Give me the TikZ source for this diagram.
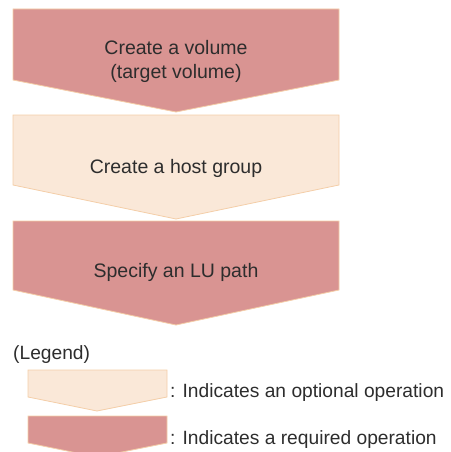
\documentclass[tikz,border=0pt]{standalone}
\usepackage{fontspec}
\setmainfont{Liberation Sans}
\definecolor{reqfill}{RGB}{217,148,146}
\definecolor{optfill}{RGB}{250,232,216}
\definecolor{edgecol}{RGB}{244,206,168}
\definecolor{txt}{RGB}{45,45,45}
\tikzset{
  reqshape/.style={fill=reqfill,draw=edgecol,line width=0.8pt,line join=miter},
  optshape/.style={fill=optfill,draw=edgecol,line width=0.8pt,line join=miter},
  lbl/.style={inner sep=0pt,anchor=base,text=txt,font=\fontsize{19.5}{23}\selectfont},
  leglbl/.style={inner sep=0pt,anchor=base west,text=txt,font=\fontsize{19.2}{23}\selectfont}
}
\begin{document}
\begin{tikzpicture}[x=1pt,y=-1pt]
\useasboundingbox (0,0) rectangle (450,452);
\begin{scope}
\clip (0,0) rectangle (450,452);
% flow
\draw[reqshape] (13,9) -- (339,9) -- (339,80) -- (176,112) -- (13,80) -- cycle;
\draw[optshape] (13,115) -- (339,115) -- (339,185) -- (176,219) -- (13,185) -- cycle;
\draw[reqshape] (13,221) -- (339,221) -- (339,290) -- (176,325) -- (13,290) -- cycle;
% legend shapes
\draw[optshape] (28,370) -- (167,370) -- (167,397) -- (97,411) -- (28,397) -- cycle;
\draw[reqshape] (28,416) -- (167,416) -- (167,443) -- (97,457) -- (28,443) -- cycle;
\end{scope}
\node[lbl] (t1) at (176,55) {Create a volume};
\node[lbl] (t1b) at (176,78) {(target volume)};
\node[lbl] (t2) at (176,173) {Create a host group};
\node[lbl] (t3) at (176,277) {Specify an LU path};
\node[leglbl] (lg) at (13,359) {(Legend)};
\node[leglbl] (lo) at (170,397) {: Indicates an optional operation};
\node[leglbl] (lr) at (170,444) {: Indicates a required operation};
\end{tikzpicture}
\end{document}
